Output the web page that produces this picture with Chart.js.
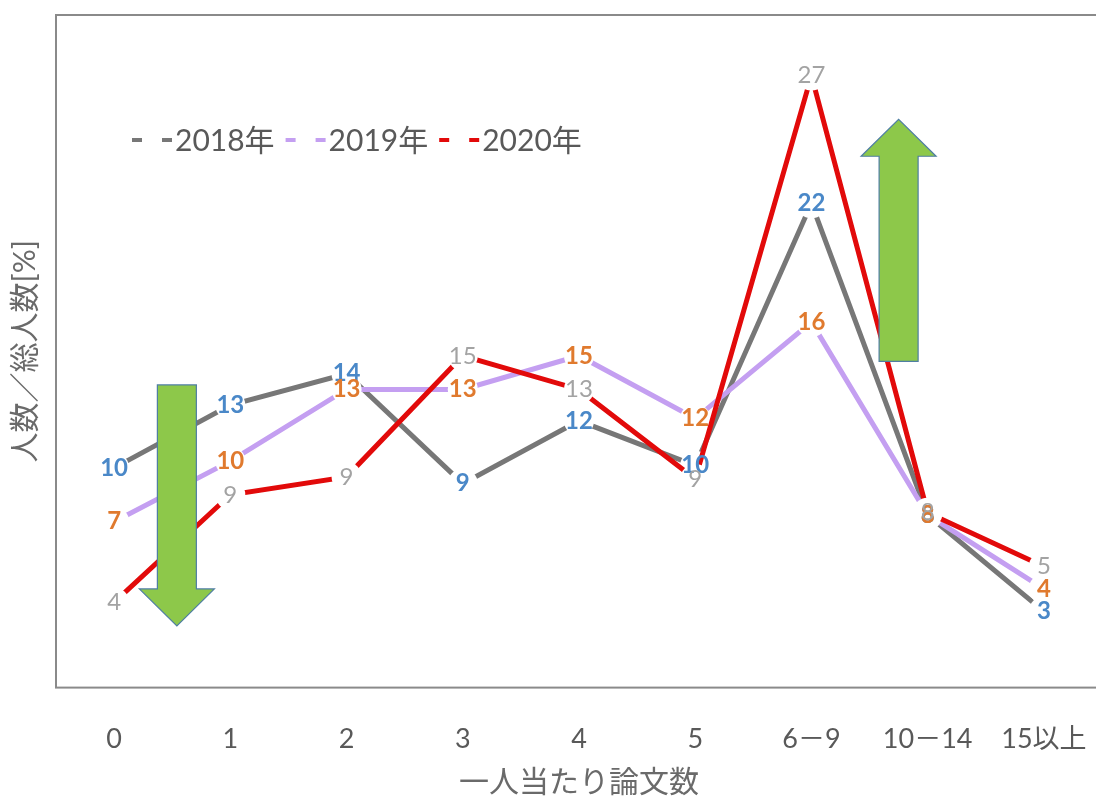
<!DOCTYPE html>
<html lang="ja">
<head>
<meta charset="utf-8">
<title>一人当たり論文数</title>
<script src="https://cdn.jsdelivr.net/npm/chart.js@4.4.1/dist/chart.umd.min.js"></script>
<style>
    html, body { margin: 0; padding: 0; background: #fff; overflow: hidden; }
    #paperChart { display: block; width: 1096px; height: 798px; }
</style>
</head>
<body>
<canvas id="paperChart" width="1096" height="798"></canvas>
<script>
// values (labels show rounded numbers)
const categories = ['0', '1', '2', '3', '4', '5', '6－9', '10－14', '15以上'];
const seriesNames = ['2018年', '2019年', '2020年'];
const values2018 = [9.8, 12.6, 14.0, 9.1, 11.9, 9.9, 21.6, 7.7, 3.4];
const values2019 = [7.4, 10.1, 13.3, 13.3, 14.8, 12.0, 16.3, 7.7, 4.4];
const values2020 = [3.8, 8.6, 9.4, 14.8, 13.3, 9.3, 27.3, 7.8, 5.4];
const yMin = 0;
const yMax = 30;

const lineColors = ['#777777', '#c49ff1', '#e20a0a'];
const labelColors = ['#4a88c8', '#e07a2e', '#a3a3a3'];
const labelWeights = ['bold', 'bold', 'normal'];
const fontFamily = "Lato, 'Noto Sans CJK JP', sans-serif";
const textColor = '#595959';

// the original picture is cropped: the plot runs a few px past the right edge
const plotOverhang = 6;

// green arrows: category position, from value, to value
const arrows = [
    { at: 0.54, from: 13.5, to: 2.75 },
    { at: 6.75, from: 14.55, to: 25.35 }
];

const seriesValues = [values2018, values2019, values2020];

const stretchPlot = {
    id: 'stretchPlot',
    afterLayout(chart) {
        const xs = chart.scales.x;
        const right = chart.width + plotOverhang;
        xs.right = right;
        xs.width = right - xs.left;
        chart.chartArea.right = right;
        chart.chartArea.width = right - chart.chartArea.left;
        xs.configure();
    }
};

// box round the plot area (right side runs off the picture)
const frameBox = {
    id: 'frameBox',
    beforeDatasetsDraw(chart) {
        const { ctx, chartArea } = chart;
        ctx.save();
        ctx.strokeStyle = '#8a8a8a';
        ctx.lineWidth = 2;
        ctx.strokeRect(chartArea.left, chartArea.top, chartArea.right - chartArea.left, chartArea.bottom - chartArea.top);
        ctx.restore();
    }
};

// numbers on the points
const pointLabels = {
    id: 'pointLabels',
    afterDatasetsDraw(chart) {
        const ctx = chart.ctx;
        ctx.save();
        ctx.textAlign = 'center';
        ctx.textBaseline = 'middle';
        chart.data.datasets.forEach((ds, i) => {
            const meta = chart.getDatasetMeta(i);
            ctx.font = labelWeights[i] + ' 24px ' + fontFamily;
            ctx.fillStyle = labelColors[i];
            meta.data.forEach((pt, j) => {
                ctx.fillText(String(Math.round(ds.data[j])), pt.x, pt.y);
            });
        });
        ctx.restore();
    }
};

// legend inside the plot, dashed samples
const innerLegend = {
    id: 'innerLegend',
    afterDatasetsDraw(chart) {
        const { ctx, chartArea } = chart;
        let x = chartArea.left + 76;
        const y = chartArea.top + 125;
        ctx.save();
        ctx.font = '30px ' + fontFamily;
        ctx.textBaseline = 'middle';
        ctx.textAlign = 'left';
        chart.data.datasets.forEach((ds) => {
            ctx.fillStyle = ds.borderColor;
            ctx.fillRect(x, y - 2, 10, 4);
            ctx.fillRect(x + 30, y - 2, 10, 4);
            ctx.fillStyle = textColor;
            ctx.fillText(ds.label, x + 43, y + 1);
            x += 43 + ctx.measureText(ds.label).width + 11;
        });
        ctx.restore();
    }
};

const greenArrows = {
    id: 'greenArrows',
    afterDraw(chart) {
        const { ctx } = chart;
        const xs = chart.scales.x;
        const ys = chart.scales.y;
        ctx.save();
        ctx.fillStyle = '#8dc84a';
        ctx.strokeStyle = '#4f7ea3';
        ctx.lineWidth = 1.2;
        arrows.forEach((a) => {
            const cx = xs.getPixelForValue(a.at);
            const y0 = ys.getPixelForValue(a.from);
            const y1 = ys.getPixelForValue(a.to);
            const dir = y1 > y0 ? 1 : -1;
            const headLen = 37;
            const shaft = 19.5;
            const head = 37.5;
            const yb = y1 - dir * headLen;
            ctx.beginPath();
            ctx.moveTo(cx - shaft, y0);
            ctx.lineTo(cx + shaft, y0);
            ctx.lineTo(cx + shaft, yb);
            ctx.lineTo(cx + head, yb);
            ctx.lineTo(cx, y1);
            ctx.lineTo(cx - head, yb);
            ctx.lineTo(cx - shaft, yb);
            ctx.closePath();
            ctx.fill();
            ctx.stroke();
        });
        ctx.restore();
    }
};

document.addEventListener('DOMContentLoaded', () => {
    const ctx = document.getElementById('paperChart');
    new Chart(ctx, {
        type: 'line',
        data: {
            labels: categories,
            datasets: seriesValues.map((vals, i) => ({
                label: seriesNames[i],
                data: vals,
                borderColor: lineColors[i],
                backgroundColor: lineColors[i],
                borderWidth: 5,
                tension: 0,
                pointRadius: 15,
                pointHoverRadius: 15,
                pointBackgroundColor: '#ffffff',
                pointBorderWidth: 0,
                order: 2 - i
            }))
        },
        options: {
            responsive: false,
            animation: false,
            devicePixelRatio: 1,
            layout: {
                padding: { top: 13, right: 0, bottom: 1, left: 0 }
            },
            plugins: {
                legend: { display: false },
                tooltip: { enabled: false }
            },
            scales: {
                x: {
                    offset: true,
                    // invisible tick marks give the gap under the plot
                    grid: { display: false, drawTicks: true, tickLength: 35 },
                    border: { display: false },
                    ticks: {
                        color: textColor,
                        font: { family: fontFamily, size: 27 },
                        padding: 0,
                        maxRotation: 0,
                        autoSkip: false
                    },
                    title: {
                        display: true,
                        text: '一人当たり論文数',
                        color: '#6a6a6a',
                        font: { family: fontFamily, size: 30, lineHeight: 1 },
                        padding: { top: 12, bottom: 0 }
                    }
                },
                y: {
                    min: yMin,
                    max: yMax,
                    grid: { display: false, drawTicks: false },
                    border: { display: false },
                    ticks: { display: false },
                    title: {
                        display: true,
                        text: '人数／総人数[%]',
                        color: '#6a6a6a',
                        font: { family: fontFamily, size: 30, lineHeight: 1 },
                        padding: { top: 10, bottom: 16 }
                    }
                }
            }
        },
        plugins: [stretchPlot, frameBox, pointLabels, innerLegend, greenArrows]
    });
});
</script>
</body>
</html>
